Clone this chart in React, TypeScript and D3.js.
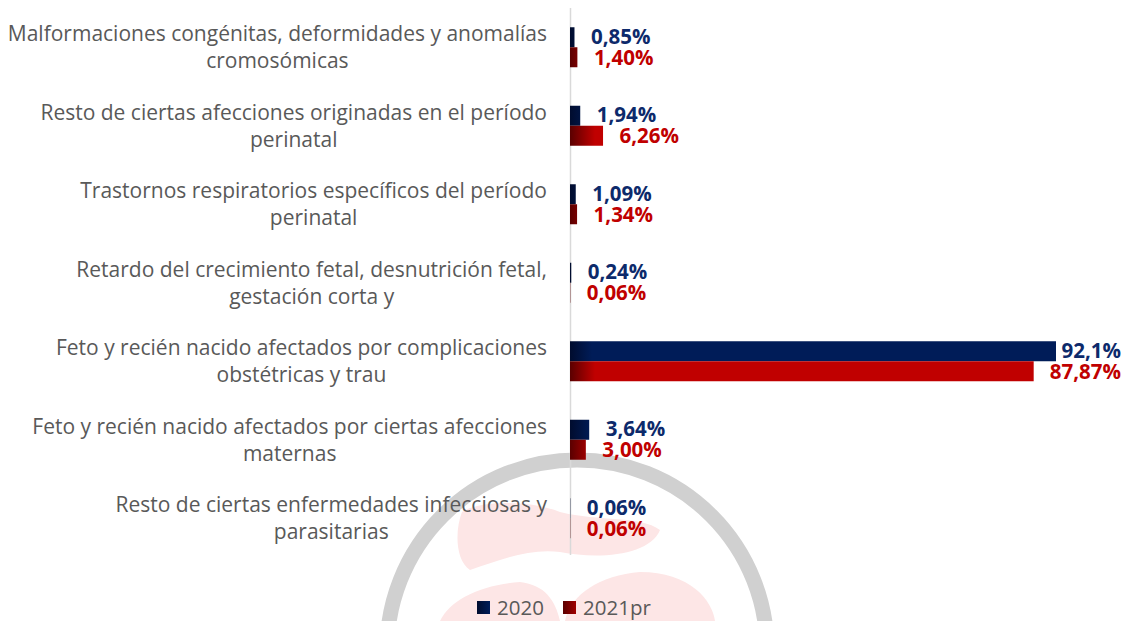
import React from "react";
import * as d3 from "d3";

const categories = [
  "Malformaciones congénitas, deformidades y anomalías|cromosómicas",
  "Resto de ciertas afecciones originadas en el período|perinatal",
  "Trastornos respiratorios específicos del período|perinatal",
  "Retardo del crecimiento fetal, desnutrición fetal,|gestación corta y",
  "Feto y recién nacido afectados por complicaciones|obstétricas y trau",
  "Feto y recién nacido afectados por ciertas afecciones|maternas",
  "Resto de ciertas enfermedades infecciosas y|parasitarias",
];
const values2020 = [0.85, 1.94, 1.09, 0.24, 92.1, 3.64, 0.06];
const values2021 = [1.4, 6.26, 1.34, 0.06, 87.87, 3.0, 0.06];
const labels2020 = ["0,85%", "1,94%", "1,09%", "0,24%", "92,1%", "3,64%", "0,06%"];
const labels2021 = ["1,40%", "6,26%", "1,34%", "0,06%", "87,87%", "3,00%", "0,06%"];
const seriesNames = ["2020", "2021pr"];

const W = 1127;
const H = 621;
const FONT = "'Open Sans', sans-serif";
const CAT_SIZE = 21;
const VAL_SIZE = 20.5;

let ctx: CanvasRenderingContext2D | null = null;
function measure(text: string, font: string): number {
  if (!ctx) ctx = document.createElement("canvas").getContext("2d");
  if (!ctx) return text.length * 10;
  ctx.font = font;
  return ctx.measureText(text).width;
}

export default function App() {
  const x = d3.scaleLinear().domain([0, 92.1]).range([570, 1056]);
  const y = d3.scaleBand<string>().domain(categories).range([8, 557.5]).padding(0);
  const barH = 20;
  const navy = "#0d2a6b";
  const red = "#c00000";
  const labelRight = 1121;

  const valueLabel = (v: number, txt: string, cy: number, color: string, key: string) => {
    const w = measure(txt, `bold ${VAL_SIZE}px ${FONT}`);
    let lx = x(v) + 16.5;
    if (lx + w > labelRight) lx = labelRight - w;
    return (
      <text key={key} x={lx} y={cy} dy="0.35em" fill={color} fontFamily={FONT} fontSize={VAL_SIZE} fontWeight="bold">
        {txt}
      </text>
    );
  };

  return (
    <svg width={W} height={H} style={{ position: "absolute", left: 0, top: 0, background: "#fff" }}>
      <defs>
        <linearGradient id="gNavy" gradientUnits="userSpaceOnUse" x1={570} x2={592} y1={0} y2={0}>
          <stop offset="0" stopColor="#000c2e" />
          <stop offset="1" stopColor="#001c58" />
        </linearGradient>
        <linearGradient id="gRed" gradientUnits="userSpaceOnUse" x1={570} x2={595} y1={0} y2={0}>
          <stop offset="0" stopColor="#5a0000" />
          <stop offset="1" stopColor="#c00000" />
        </linearGradient>
        <linearGradient id="lNavy" x1="0" x2="1" y1="0" y2="0">
          <stop offset="0" stopColor="#000c2e" />
          <stop offset="1" stopColor="#001c58" />
        </linearGradient>
        <linearGradient id="lRed" x1="0" x2="1" y1="0" y2="0">
          <stop offset="0" stopColor="#5a0000" />
          <stop offset="1" stopColor="#a00000" />
        </linearGradient>
      </defs>

      {/* watermark */}
      <g>
        <path d="M462,512 C480,500 530,500 560,512 C600,522 640,515 660,530 C650,555 600,560 560,552 C530,548 500,560 470,570 C455,560 455,530 462,512 Z" fill="#fde6e6" />
        <path d="M440,621 C450,600 480,585 520,582 C545,585 555,600 560,621 Z" fill="#fde6e6" />
        <path d="M565,621 C570,595 600,575 640,572 C690,572 712,600 715,621 Z" fill="#fde6e6" />
        <circle cx={577} cy={650} r={190} fill="none" stroke="#d0d0d0" strokeWidth={15} />
      </g>

      {/* axis */}
      <line x1={570.5} x2={570.5} y1={8} y2={555} stroke="#d9d9d9" strokeWidth={1.5} />

      {/* category labels */}
      {categories.map((c) => {
        const lines = c.split("|");
        const cy = (y(c) ?? 0) + y.bandwidth() / 2;
        const w1 = measure(lines[0], `${CAT_SIZE}px ${FONT}`);
        const cx = 547 - w1 / 2;
        return (
          <g key={c}>
            {lines.map((ln, i) => (
              <text
                key={i}
                x={cx}
                y={cy + (i === 0 ? -13.5 : 13.5)}
                dy="0.35em"
                textAnchor="middle"
                fill="#595959"
                fontFamily={FONT}
                fontSize={CAT_SIZE}
              >
                {ln}
              </text>
            ))}
          </g>
        );
      })}

      {/* bars */}
      {categories.map((c, i) => {
        const top = (y(c) ?? 0) + y.bandwidth() / 2 - barH;
        return (
          <g key={"b" + i}>
            <rect x={x(0)} y={top} width={x(values2020[i]) - x(0)} height={barH} fill="url(#gNavy)" />
            <rect x={x(0)} y={top + barH} width={x(values2021[i]) - x(0)} height={barH} fill="url(#gRed)" />
          </g>
        );
      })}

      {/* value labels */}
      {categories.map((c, i) => {
        const mid = (y(c) ?? 0) + y.bandwidth() / 2;
        return (
          <g key={"l" + i}>
            {valueLabel(values2020[i], labels2020[i], mid - 10.5, navy, "a")}
            {valueLabel(values2021[i], labels2021[i], mid + 10.5, red, "b")}
          </g>
        );
      })}

      {/* legend */}
      <g>
        <rect x={477} y={601} width={13} height={13} fill="url(#lNavy)" />
        <text x={497} y={607.5} dy="0.35em" fill="#595959" fontFamily={FONT} fontSize={20.5}>
          {seriesNames[0]}
        </text>
        <rect x={563} y={601} width={13} height={13} fill="url(#lRed)" />
        <text x={583} y={607.5} dy="0.35em" fill="#595959" fontFamily={FONT} fontSize={20.5}>
          {seriesNames[1]}
        </text>
      </g>
    </svg>
  );
}
